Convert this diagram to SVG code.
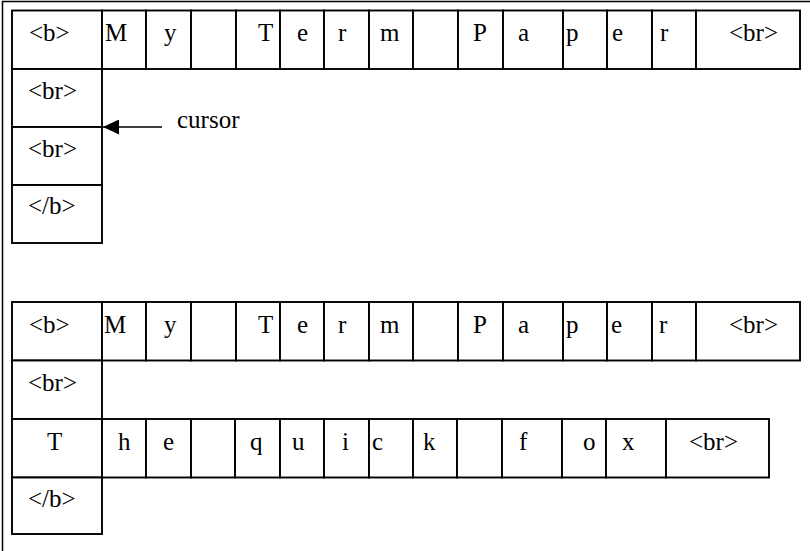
<svg xmlns="http://www.w3.org/2000/svg" width="810" height="551" viewBox="0 0 810 551">
<style>
rect.c{fill:#fff;stroke:#000;stroke-width:1.9}
text{font-family:'Liberation Serif','Times New Roman',Times,serif;font-size:25px;fill:#000}
.frame{fill:none;stroke:#000;stroke-width:1.5}
.conn{stroke:#000;stroke-width:1.7;fill:none}
</style>
<defs>
<marker id="ah" viewBox="0 0 16 15" refX="16" refY="7.5" markerWidth="16" markerHeight="15" markerUnits="userSpaceOnUse" orient="auto">
<path d="M0,0 L16,7.5 L0,15 z" fill="#000"/>
</marker>
</defs>
<rect width="810" height="551" fill="#fff"/>
<path class="frame" d="M810,1.5 H2.5 V551"/>

<g id="top-list" font-family="Liberation Serif, Times New Roman, serif" font-size="25">
<g id="a-b"><rect class="c" x="12" y="10.5" width="90" height="58.5"/><text x="29" y="41">&lt;b&gt;</text></g>
<g id="a-M"><rect class="c" x="102" y="10.5" width="44" height="58.5"/><text x="105" y="41">M</text></g>
<g id="a-y"><rect class="c" x="146" y="10.5" width="45" height="58.5"/><text x="164" y="41">y</text></g>
<g id="a-sp1"><rect class="c" x="191" y="10.5" width="45" height="58.5"/></g>
<g id="a-T"><rect class="c" x="236" y="10.5" width="44" height="58.5"/><text x="258" y="41">T</text></g>
<g id="a-e1"><rect class="c" x="280" y="10.5" width="44" height="58.5"/><text x="297" y="41">e</text></g>
<g id="a-r1"><rect class="c" x="324" y="10.5" width="45" height="58.5"/><text x="338" y="41">r</text></g>
<g id="a-m"><rect class="c" x="369" y="10.5" width="44" height="58.5"/><text x="380" y="41">m</text></g>
<g id="a-sp2"><rect class="c" x="413" y="10.5" width="45" height="58.5"/></g>
<g id="a-P"><rect class="c" x="458" y="10.5" width="45" height="58.5"/><text x="473" y="41">P</text></g>
<g id="a-a"><rect class="c" x="503" y="10.5" width="60" height="58.5"/><text x="518" y="41">a</text></g>
<g id="a-p"><rect class="c" x="563" y="10.5" width="44" height="58.5"/><text x="566" y="41">p</text></g>
<g id="a-e2"><rect class="c" x="607" y="10.5" width="45" height="58.5"/><text x="612" y="41">e</text></g>
<g id="a-r2"><rect class="c" x="652" y="10.5" width="44" height="58.5"/><text x="660" y="41">r</text></g>
<g id="a-br0"><rect class="c" x="696" y="10.5" width="104" height="58.5"/><text x="729" y="41">&lt;br&gt;</text></g>
<g id="a-br1"><rect class="c" x="12" y="69" width="90" height="58"/><text x="28" y="99">&lt;br&gt;</text></g>
<g id="a-br2"><rect class="c" x="12" y="127" width="90" height="58"/><text x="28" y="157">&lt;br&gt;</text></g>
<g id="a-endb"><rect class="c" x="12" y="185" width="90" height="58"/><text x="28" y="214">&lt;/b&gt;</text></g>
</g>

<g id="bottom-list" font-family="Liberation Serif, Times New Roman, serif" font-size="25">
<g id="b-b"><rect class="c" x="12" y="302" width="90" height="58.5"/><text x="29" y="333">&lt;b&gt;</text></g>
<g id="b-M"><rect class="c" x="102" y="302" width="44" height="58.5"/><text x="104" y="333">M</text></g>
<g id="b-y"><rect class="c" x="146" y="302" width="45" height="58.5"/><text x="164" y="333">y</text></g>
<g id="b-sp1"><rect class="c" x="191" y="302" width="45" height="58.5"/></g>
<g id="b-T"><rect class="c" x="236" y="302" width="44" height="58.5"/><text x="258" y="333">T</text></g>
<g id="b-e1"><rect class="c" x="280" y="302" width="44" height="58.5"/><text x="297" y="333">e</text></g>
<g id="b-r1"><rect class="c" x="324" y="302" width="45" height="58.5"/><text x="338" y="333">r</text></g>
<g id="b-m"><rect class="c" x="369" y="302" width="44" height="58.5"/><text x="380" y="333">m</text></g>
<g id="b-sp2"><rect class="c" x="413" y="302" width="45" height="58.5"/></g>
<g id="b-P"><rect class="c" x="458" y="302" width="45" height="58.5"/><text x="473" y="333">P</text></g>
<g id="b-a"><rect class="c" x="503" y="302" width="60" height="58.5"/><text x="518" y="333">a</text></g>
<g id="b-p"><rect class="c" x="563" y="302" width="44" height="58.5"/><text x="566" y="333">p</text></g>
<g id="b-e2"><rect class="c" x="607" y="302" width="45" height="58.5"/><text x="611" y="333">e</text></g>
<g id="b-r2"><rect class="c" x="652" y="302" width="44" height="58.5"/><text x="659" y="333">r</text></g>
<g id="b-br0"><rect class="c" x="696" y="302" width="104" height="58.5"/><text x="729" y="333">&lt;br&gt;</text></g>
<g id="b-br1"><rect class="c" x="12" y="360.5" width="90" height="58.5"/><text x="28" y="391">&lt;br&gt;</text></g>
<g id="b-T2"><rect class="c" x="12" y="419" width="90" height="58.5"/><text x="47" y="450">T</text></g>
<g id="b-h"><rect class="c" x="102" y="419" width="44" height="58.5"/><text x="118" y="450">h</text></g>
<g id="b-e3"><rect class="c" x="146" y="419" width="45" height="58.5"/><text x="163" y="450">e</text></g>
<g id="b-sp3"><rect class="c" x="191" y="419" width="44" height="58.5"/></g>
<g id="b-q"><rect class="c" x="235" y="419" width="45" height="58.5"/><text x="250" y="450">q</text></g>
<g id="b-u"><rect class="c" x="280" y="419" width="44" height="58.5"/><text x="292" y="450">u</text></g>
<g id="b-i"><rect class="c" x="324" y="419" width="45" height="58.5"/><text x="342" y="450">i</text></g>
<g id="b-c"><rect class="c" x="369" y="419" width="44" height="58.5"/><text x="372" y="450">c</text></g>
<g id="b-k"><rect class="c" x="413" y="419" width="44" height="58.5"/><text x="423" y="450">k</text></g>
<g id="b-sp4"><rect class="c" x="457" y="419" width="45" height="58.5"/></g>
<g id="b-f"><rect class="c" x="502" y="419" width="60" height="58.5"/><text x="519" y="450">f</text></g>
<g id="b-o"><rect class="c" x="562" y="419" width="44" height="58.5"/><text x="583" y="450">o</text></g>
<g id="b-x"><rect class="c" x="606" y="419" width="60" height="58.5"/><text x="622" y="450">x</text></g>
<g id="b-br2"><rect class="c" x="666" y="419" width="103" height="58.5"/><text x="689" y="450">&lt;br&gt;</text></g>
<g id="b-endb"><rect class="c" x="12" y="477.5" width="90" height="56.5"/><text x="28" y="507">&lt;/b&gt;</text></g>
</g>

<g id="connectors" font-family="Liberation Serif, Times New Roman, serif" font-size="25">
<line class="conn" x1="162" y1="127" x2="103" y2="127" marker-end="url(#ah)"/>
<text x="177" y="128">cursor</text>
</g>
</svg>
